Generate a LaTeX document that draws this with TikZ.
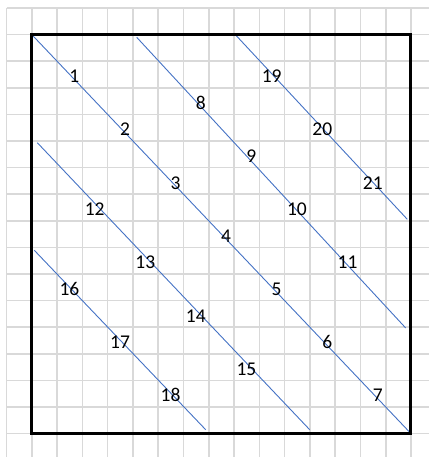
\documentclass[tikz,border=0pt]{standalone}
\usepackage{fontspec}
\setmainfont{Carlito}
\definecolor{gridgray}{RGB}{217,217,217}
\definecolor{lineblue}{RGB}{68,114,196}
\begin{document}
\begin{tikzpicture}[x=1pt,y=-1pt,
  gridline/.style={draw=gridgray,line width=1.6pt},
  frame/.style={draw=black,line width=3pt},
  diag/.style={draw=lineblue,line width=0.9pt},
  num/.style={inner sep=0pt,anchor=base east,font=\fontsize{19.5}{20}\selectfont}]
\useasboundingbox (0,0) rectangle (429,457);
% spreadsheet grid
\foreach \i in {0,...,16} \draw[gridline] ({6.5+25.28*\i},8) -- ({6.5+25.28*\i},457);
\foreach \j in {0,...,16} \draw[gridline] (6.5,{8+26.6*\j}) -- (429,{8+26.6*\j});
% frame corners
\coordinate (TL) at ({6.5+25.28},{8+26.6});
\coordinate (BR) at ({6.5+25.28*16},{8+26.6*16});
% diagonal line end points
\coordinate (B1) at (136.7,37.3);  \coordinate (B2) at (405.7,328);
\coordinate (C1) at (235,34.3);    \coordinate (C2) at (407.3,219.3);
\coordinate (D1) at (37.3,142.7);  \coordinate (D2) at (309.7,429.7);
\coordinate (E1) at (34.3,250.3);  \coordinate (E2) at (205.7,429.7);
% blue diagonals
\draw[diag] (TL) -- (BR);
\draw[diag] (B1) -- (B2);
\draw[diag] (C1) -- (C2);
\draw[diag] (D1) -- (D2);
\draw[diag] (E1) -- (E2);
% frame
\draw[frame] (TL) rectangle (BR);
% numbers (right aligned in their cells)
\foreach \n/\c/\r in {1/2/2,2/4/4,3/6/6,4/8/8,5/10/10,6/12/12,7/14/14,
  8/7/3,9/9/5,10/11/7,11/13/9,
  12/3/7,13/5/9,14/7/11,15/9/13,
  16/2/10,17/4/12,18/6/14,
  19/10/2,20/12/4,21/14/6}
  \node[num] (n\n) at ({6.5+25.28*(\c+1)-2.8},{8+26.6*\r+21.4}) {\n};
\end{tikzpicture}
\end{document}
